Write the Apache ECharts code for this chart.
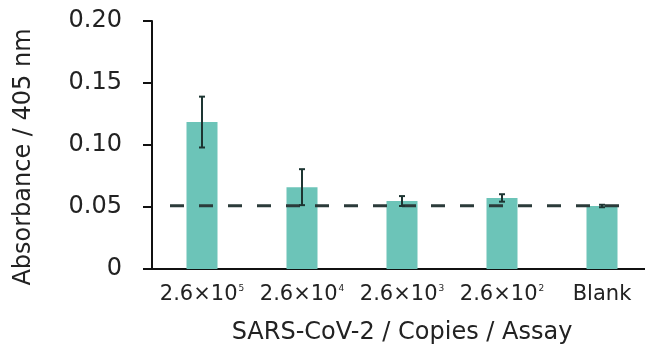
<!DOCTYPE html>
<html>
<head>
<meta charset="utf-8">
<script src="https://cdn.jsdelivr.net/npm/echarts@6/dist/echarts.min.js"></script>
<style>html,body{margin:0;padding:0;background:#fff;}#c{width:645px;height:347px;}</style>
</head>
<body>
<div id="c"></div>
<script>
// Data
const categories = ['2.6×10^5', '2.6×10^4', '2.6×10^3', '2.6×10^2', 'Blank'];
const absorbance = [0.1185, 0.066, 0.0548, 0.0573, 0.0508];
const errors = [0.0205, 0.0145, 0.004, 0.003, 0.001];
const threshold = 0.051;
const yTicks = [0, 0.05, 0.10, 0.15, 0.20];

const font = 'DejaVu Sans';
const chart = echarts.init(document.getElementById('c'));

function fmtCat(v) {
  const p = v.split('^');
  return p.length > 1 ? p[0] + '{sup|' + p[1] + '}' : v;
}

chart.setOption({
  animation: false,
  grid: { left: 152, top: 21, width: 500, height: 248, outerBoundsMode: 'none', containLabel: false },
  xAxis: [{
    type: 'category',
    data: categories,
    axisLine: { lineStyle: { color: '#111', width: 2 } },
    axisTick: { show: false },
    axisLabel: {
      interval: 0,
      hideOverlap: false,
      margin: 15,
      color: '#222',
      fontFamily: font,
      fontSize: 21,
      formatter: fmtCat,
      rich: { sup: { fontSize: 9, fontFamily: font, color: '#222', padding: [0, 0, 11, 1] } }
    },
    name: 'SARS-CoV-2 / Copies / Assay',
    nameLocation: 'middle',
    nameGap: 52,
    nameTextStyle: { fontFamily: font, fontSize: 24, color: '#222' }
  }],
  yAxis: [{
    type: 'value',
    min: yTicks[0],
    max: yTicks[yTicks.length - 1],
    interval: 0.05,
    splitLine: { show: false },
    axisLine: { show: true, lineStyle: { color: '#111', width: 2 } },
    axisTick: { show: true, length: 9, lineStyle: { color: '#111', width: 2 } },
    axisLabel: {
      margin: 30,
      color: '#222',
      fontFamily: font,
      fontSize: 24,
      formatter: v => (v === 0 ? '0' : v.toFixed(2))
    }
  }],
  graphic: [{
    type: 'text',
    x: 24, y: 157,
    rotation: Math.PI / 2,
    style: {
      text: 'Absorbance / 405 nm',
      fontFamily: font, fontSize: 24, fill: '#222',
      textAlign: 'center', textVerticalAlign: 'middle'
    }
  }],
  series: [
    {
      type: 'bar',
      data: absorbance,
      barWidth: 31,
      itemStyle: { color: '#6cc4b8' },
      z: 2
    },
    {
      type: 'custom',
      data: [0],
      z: 4,
      renderItem: function (params, api) {
        const a = api.coord([0, threshold]);
        const b = api.coord([categories.length - 1, threshold]);
        return {
          type: 'line',
          shape: { x1: a[0] - 32, y1: a[1], x2: b[0] + 24, y2: b[1] },
          style: { stroke: '#2b3b3a', lineWidth: 3, lineDash: [14, 15] }
        };
      }
    },
    {
      type: 'custom',
      data: absorbance.map((v, i) => [i, v, errors[i]]),
      z: 5,
      renderItem: function (params, api) {
        const i = api.value(0), v = api.value(1), e = api.value(2);
        const top = api.coord([i, v + e]);
        const bot = api.coord([i, v - e]);
        const c = { stroke: '#1d3532', lineWidth: 2 };
        return {
          type: 'group',
          children: [
            { type: 'line', shape: { x1: top[0], y1: top[1], x2: bot[0], y2: bot[1] }, style: c },
            { type: 'line', shape: { x1: top[0] - 3, y1: top[1], x2: top[0] + 3, y2: top[1] }, style: c },
            { type: 'line', shape: { x1: bot[0] - 3, y1: bot[1], x2: bot[0] + 3, y2: bot[1] }, style: c }
          ]
        };
      }
    }
  ]
});
</script>
</body>
</html>
